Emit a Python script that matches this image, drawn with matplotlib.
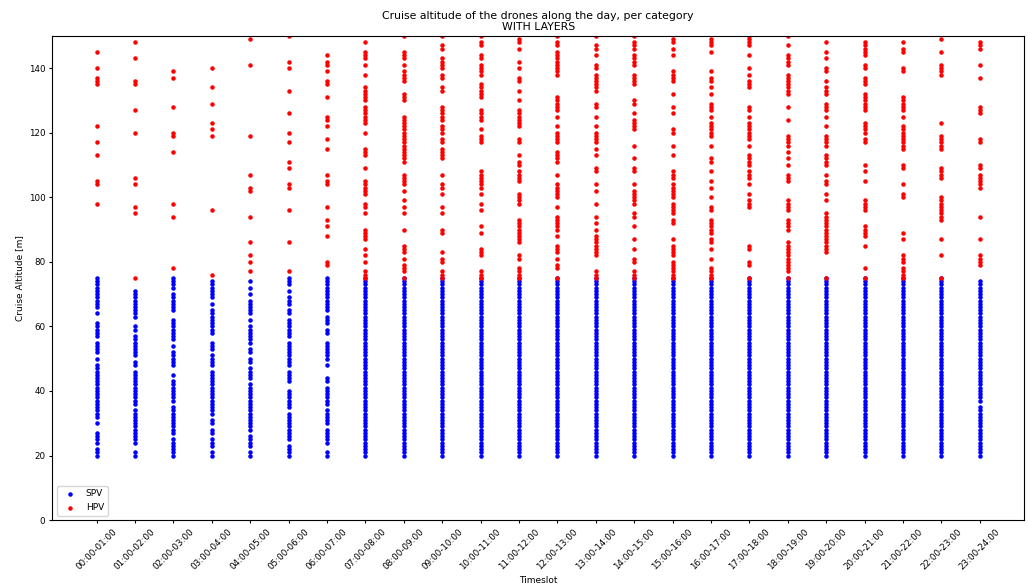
import matplotlib
matplotlib.use("Agg")
import matplotlib.pyplot as plt

timeslots = [f"{h:02d}:00-{h + 1:02d}:00" for h in range(24)]

# altitudes; a tuple (a, b) is a run of every metre from a to b
spv_alt = [
    [(66, 75), 64, (57, 61), (52, 55), 50, (32, 48), 30, (24, 27), (20, 22)],
    [(63, 71), (59, 60), (51, 57), (48, 49), (36, 46), (24, 34), (20, 21)],
    [(72, 75), (65, 70), (56, 62), 54, (48, 52), 45, (37, 43), (27, 35), (20, 25)],
    [(69, 74), 67, (58, 65), (53, 55), (48, 51), (33, 46), (30, 31), (27, 28), (23, 25), (20, 21)],
    [74, 72, 70, (64, 68), 62, (55, 60), (52, 53), (49, 50), (44, 47), (28, 42), (23, 26), (20, 21)],
    [(73, 75), 71, (67, 69), (64, 65), (57, 62), (53, 55), (48, 52), (43, 46), (35, 40), (25, 33), (20, 23)],
    [(65, 75), (61, 63), (58, 59), (50, 55), 48, (43, 44), (36, 41), (30, 34), (24, 28), (20, 21)],
    [(20, 75)], [(20, 75)], [(20, 75)], [(20, 75)], [(20, 75)], [(20, 75)],
    [(20, 75)], [(20, 75)], [(20, 75)], [(20, 75)], [(20, 75)], [(20, 75)],
    [(20, 75)], [(20, 75)], [(20, 75)], [(20, 75)],
    [(37, 74), (20, 35)],
]

hpv_alt = [
    [145, 140, (135, 137), 122, 117, 113, (104, 105), 98],
    [148, 143, (135, 136), 127, 120, 106, 104, 97, 95, 75],
    [139, 137, 128, (119, 120), 114, 98, 94, 78],
    [140, 134, 129, 123, 121, 119, 96, 76],
    [149, 141, 119, 107, (102, 103), 94, 86, 82, 80, 77],
    [150, 142, 140, 133, 126, 120, 117, 111, 109, (103, 104), 96, 86, 77],
    [144, (141, 142), 139, (135, 136), 131, (124, 125), 122, 118, 115, 107, (104, 105), 97, 93, 91, 88, (79, 80)],
    [148, (143, 145), 141, 138, (132, 134), (130, 131), (123, 128), 120, (113, 115), 109, (101, 105), (97, 98), 95, (87, 90), 84, 82, 80, (75, 77)],
    [150, (143, 145), 141, (136, 139), (130, 132), (111, 125), (104, 107), 102, 99, 97, 95, 90, (83, 85), 81, (77, 79), 75],
    [150, (146, 147), (140, 143), (137, 138), (133, 134), (124, 128), (120, 122), (117, 118), (112, 115), 107, (103, 104), 101, 97, 95, (89, 90), 83, (80, 81), (75, 77)],
    [150, (147, 148), (143, 144), (138, 141), (131, 135), (124, 127), 121, (117, 119), (103, 108), 101, 98, 96, 91, 89, (82, 84), (75, 77)],
    [(148, 149), 146, 142, 140, (136, 137), 133, 130, (122, 127), (117, 118), 113, (110, 111), (105, 108), (98, 101), (86, 93), (81, 82), (75, 78)],
    [150, (147, 148), (138, 145), (127, 131), 125, 122, (117, 120), (111, 114), 107, (100, 104), 97, (90, 94), 88, (83, 85), 81, (78, 79), 75],
    [150, (146, 147), 144, (140, 141), (133, 138), (128, 129), 125, 122, (117, 120), 115, 113, (108, 109), 104, 102, 98, 94, 92, 90, (82, 88), (75, 77)],
    [150, (146, 148), (141, 144), (135, 138), (129, 130), 126, (121, 124), 116, 112, (108, 109), 104, (98, 102), (94, 95), 91, 87, 84, (80, 81), (75, 77)],
    [(148, 149), 146, 144, (136, 139), 132, 128, 126, (120, 121), 116, 113, (106, 108), (100, 104), (95, 98), (92, 93), 87, (82, 85), (75, 80)],
    [(147, 149), 145, 139, (136, 137), 134, 132, (127, 129), 125, (119, 123), 116, (111, 112), 108, 105, 103, 100, (96, 97), (89, 93), (86, 87), 84, 81, (75, 78)],
    [(147, 150), 144, 140, 138, (134, 136), (127, 128), 125, (118, 123), 116, (110, 113), (106, 108), 104, 101, (97, 99), (84, 85), (79, 80), 75],
    [150, 147, (141, 144), (132, 138), 128, 124, (116, 119), 114, 112, 110, (105, 107), (96, 99), (90, 93), (83, 86), (77, 82), 75],
    [148, 145, 143, (139, 140), 136, (132, 134), (127, 129), 125, 122, (116, 119), (110, 113), 107, (104, 105), 101, 99, (83, 95), 75],
    [(144, 148), (140, 141), (135, 137), (127, 132), (120, 123), (117, 118), 110, 108, 105, (96, 99), (88, 91), 85, 78, 75],
    [148, (145, 146), (139, 140), (127, 131), 125, (115, 122), (109, 110), 104, (100, 101), 89, 87, (80, 82), (76, 78), 75],
    [149, 145, (138, 141), 123, (115, 119), (106, 109), (93, 100), 87, 82, 75],
    [(146, 148), 141, 137, (126, 128), (117, 118), (109, 110), (103, 107), 94, 87, (79, 82)],
]


def expand(col):
    out = []
    for v in col:
        if isinstance(v, tuple):
            out.extend(range(v[0], v[1] + 1))
        else:
            out.append(v)
    return out


def points(cols):
    xs, ys = [], []
    for i, col in enumerate(cols):
        alts = expand(col)
        xs.extend([timeslots[i]] * len(alts))
        ys.extend(alts)
    return xs, ys


fs = 6.5
fig, ax = plt.subplots(figsize=(10.28, 5.87), dpi=100)
fig.subplots_adjust(left=0.051, right=0.996, top=0.939, bottom=0.114)

x, y = points(spv_alt)
ax.scatter(x, y, s=5, color='blue', label='SPV')
x, y = points(hpv_alt)
ax.scatter(x, y, s=5, color='red', label='HPV')

ax.set_ylim(0, 150)
ax.set_title('Cruise altitude of the drones along the day, per category\nWITH LAYERS',
             fontsize=7.8, linespacing=1.15, pad=4)
ax.set_xlabel('Timeslot', fontsize=fs, labelpad=3)
ax.set_ylabel('Cruise Altitude [m]', fontsize=fs, labelpad=3)
ax.tick_params(labelsize=6.3, length=2.5, pad=2.5)
plt.xticks(rotation=45)
ax.legend(loc='lower left', fontsize=fs)

plt.savefig('out.png', dpi=100)
plt.close()
